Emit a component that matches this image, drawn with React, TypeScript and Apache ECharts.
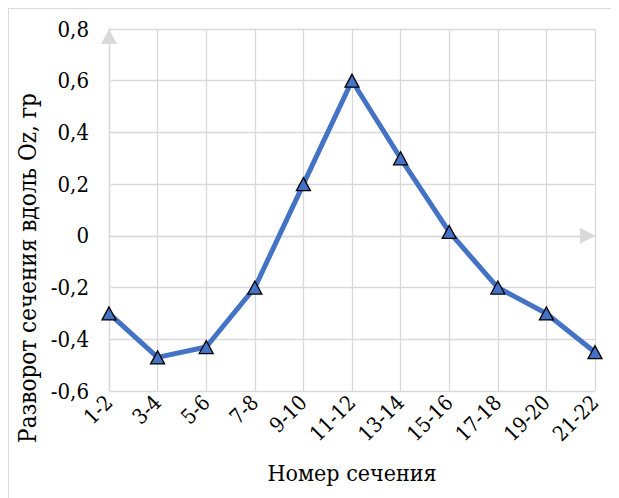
import React, { useEffect, useRef } from "react";
import * as echarts from "echarts";

const categories = ["1-2", "3-4", "5-6", "7-8", "9-10", "11-12", "13-14", "15-16", "17-18", "19-20", "21-22"];
const values = [-0.30, -0.47, -0.43, -0.20, 0.20, 0.60, 0.30, 0.015, -0.20, -0.30, -0.45];
const yMin = -0.6;
const yMax = 0.8;
const yStep = 0.2;
const xTitle = "Номер сечения";
const yTitle = "Разворот сечения вдоль Oz, гр";

const FONT = '"DejaVu Serif Condensed", "DejaVu Serif", serif';
const GRID = "#d9d9d9";

export default function App() {
  const ref = useRef<HTMLDivElement>(null);
  useEffect(() => {
    if (!ref.current) return;
    const chart = echarts.init(ref.current, null, { renderer: "svg" });
    const arrowLine = {
      show: true,
      symbol: ["none", "triangle"],
      symbolSize: [16, 15],
      symbolOffset: [0, -7.5],
      lineStyle: { color: GRID, width: 1.3 },
    };
    chart.setOption({
      animation: false,
      textStyle: { fontFamily: FONT },
      grid: { left: 100, right: 24, top: 20, bottom: 107, containLabel: false, outerBoundsMode: "none" },
      xAxis: [
        {
          type: "category",
          data: categories,
          boundaryGap: false,
          axisLine: { show: false, onZero: false },
          axisTick: { show: false },
          axisLabel: { interval: 0, rotate: 45, fontSize: 21, color: "#000", fontFamily: FONT, margin: 8 },
          splitLine: { show: true, lineStyle: { color: GRID, width: 1.3 } },
          name: xTitle,
          nameLocation: "middle",
          nameGap: 70,
          nameTextStyle: { fontSize: 23, color: "#000", fontFamily: FONT },
        },
        {
          type: "category",
          data: categories,
          boundaryGap: false,
          position: "bottom",
          axisLine: { ...arrowLine, onZero: true, onZeroAxisIndex: 0 },
          axisTick: { show: false },
          axisLabel: { show: false },
          splitLine: { show: false },
        },
      ],
      yAxis: {
        type: "value",
        min: yMin,
        max: yMax,
        interval: yStep,
        axisLine: arrowLine,
        axisTick: { show: false },
        axisLabel: {
          fontSize: 22,
          color: "#000",
          fontFamily: FONT,
          margin: 20,
          formatter: (v: number) => (Math.abs(v) < 1e-9 ? "0" : v.toFixed(1).replace(".", ",")),
        },
        splitLine: { show: true, lineStyle: { color: GRID, width: 1.3 } },
        name: yTitle,
        nameLocation: "middle",
        nameGap: 61,
        nameTextStyle: { fontSize: 24, color: "#000", fontFamily: FONT, padding: [0, 116, 0, 0] },
      },
      series: [
        {
          type: "line",
          xAxisIndex: 0,
          data: values,
          symbol: "triangle",
          symbolSize: [14, 13],
          lineStyle: { color: "#4472C4", width: 5 },
          itemStyle: { color: "#4472C4", borderColor: "#000", borderWidth: 1.3 },
          z: 5,
        },
      ],
    });
    return () => chart.dispose();
  }, []);
  return (
    <div style={{ width: 611, height: 490, boxSizing: "border-box", borderTop: "1px solid #d9d9d9", borderLeft: "1px solid #d9d9d9" }}>
      <div ref={ref} style={{ width: 610, height: 489 }} />
    </div>
  );
}
